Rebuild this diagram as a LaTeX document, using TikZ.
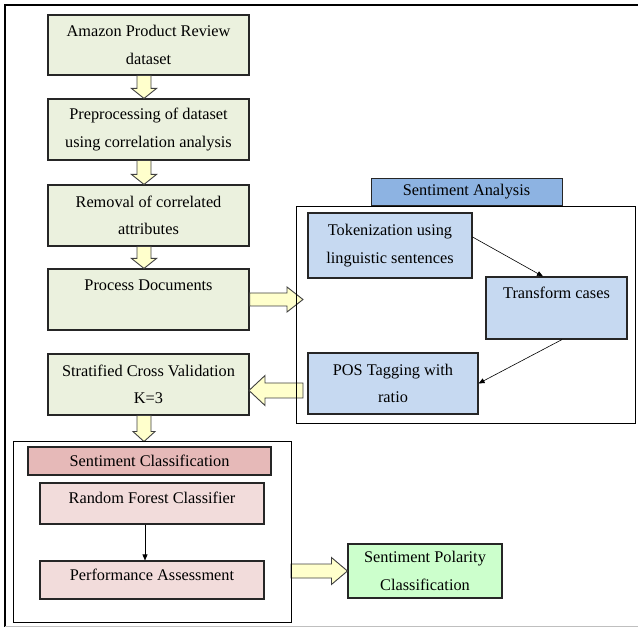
\documentclass[tikz,border=0pt]{standalone}
\usepackage{fontspec}
\setmainfont{Liberation Serif}
\usetikzlibrary{calc,arrows.meta}

\begin{document}
\begin{tikzpicture}[x=1pt,y=-1pt,
		box/.style={draw=black!85, line width=1.1pt, align=center, inner sep=0pt,
			font=\fontsize{16.3}{27.5}\selectfont},
		gruppe/.style={draw=black, line width=0.9pt},
		fat/.style n args={3}{draw=black!75, fill=gelb, line width=0.9pt,
			to path={let \p1=(\tikztostart), \p2=(\tikztotarget),
				\n1={veclen(\x2-\x1,\y2-\y1)},
				\p3=({(\x2-\x1)/\n1},{(\y2-\y1)/\n1}),
				\n2={\n1-#3} in
				({\x1-#1*\y3},{\y1+#1*\x3})
				-- ({\x1+\n2*\x3-#1*\y3},{\y1+\n2*\y3+#1*\x3})
				-- ({\x1+\n2*\x3-#2*\y3},{\y1+\n2*\y3+#2*\x3})
				-- (\x2,\y2)
				-- ({\x1+\n2*\x3+#2*\y3},{\y1+\n2*\y3-#2*\x3})
				-- ({\x1+\n2*\x3+#1*\y3},{\y1+\n2*\y3-#1*\x3})
				-- ({\x1+#1*\y3},{\y1-#1*\x3}) -- cycle}},
		duenn/.style={-{Triangle[length=6pt,width=5pt]}, line width=0.6pt}]

		\definecolor{gruen}{HTML}{EBF1DE}
		\definecolor{blau}{HTML}{C6D9F1}
		\definecolor{blaukopf}{HTML}{8DB3E2}
		\definecolor{rosa}{HTML}{F2DCDB}
		\definecolor{rosakopf}{HTML}{E6B9B8}
		\definecolor{hellgruen}{HTML}{CCFFCC}
		\definecolor{gelb}{HTML}{FFFFCC}

		\useasboundingbox (0,0) rectangle (638,628);

		% Rahmen
		\draw[black, line width=2pt] (4,5.5) -- (638,5.5);
		\draw[black, line width=1.6pt] (5,5) -- (5,627);
		\draw[black!25, line width=1pt] (5,626.5) -- (638,626.5);

		% linke Spalte
		\node[box, fill=gruen, minimum width=201pt, minimum height=60pt] (data) at (148.5,45) {Amazon Product Review\\dataset};
		\node[box, fill=gruen, minimum width=201pt, minimum height=61pt] (prep) at (148.5,129.5) {Preprocessing of dataset\\using correlation analysis};
		\node[box, fill=gruen, minimum width=201pt, minimum height=61pt] (remove) at (148.5,215.5) {Removal of correlated\\attributes};
		\node[box, fill=gruen, minimum width=201pt, text height=22pt, text depth=39pt] (procdoc) at (148.5,299.5) {Process Documents};
		\node[box, fill=gruen, minimum width=201pt, minimum height=61pt] (strat) at (148.5,384.5) {Stratified Cross Validation\\K=3};

		% Sentiment Analysis
		\node[box, fill=blau, minimum width=164pt, minimum height=65pt] (token) at (390,245.5) {Tokenization using\\linguistic sentences};
		\node[box, fill=blau, minimum width=141pt, text height=21.5pt, text depth=40.5pt] (transform) at (556.5,308) {Transform cases};
		\node[box, fill=blau, minimum width=170pt, minimum height=61pt] (pos) at (393,383.5) {POS Tagging with\\ratio};

		% Sentiment Classification
		\node[box, fill=rosa, minimum width=224pt, text height=20.5pt, text depth=20.5pt] (rf) at (152,503.5) {Random Forest Classifier};
		\node[box, fill=rosa, minimum width=224pt, text height=19.5pt, text depth=18.5pt] (perf) at (152,580) {Performance Assessment};
		\node[box, fill=hellgruen, minimum width=154pt, minimum height=54pt] (polarity) at (425,571) {Sentiment Polarity\\Classification};

		% Pfeile
		\coordinate (a1) at ($(data.south)+(-4.5,0)$);
		\coordinate (b1) at ($(prep.north)+(-4.5,0)$);
		\coordinate (a2) at ($(prep.south)+(-4.5,0)$);
		\coordinate (b2) at ($(remove.north)+(-4.5,0)$);
		\coordinate (a3) at ($(remove.south)+(-4.5,0)$);
		\coordinate (b3) at ($(procdoc.north)+(-4.5,0)$);
		\coordinate (a5) at ($(strat.south)+(-4.5,0)$);
		\coordinate (b5) at ($(strat.south)+(-4.5,26)$);
		\coordinate (sain) at (303,299.5);
		\coordinate (posout) at (303,390.5);
		\coordinate (stratin) at (249,390.5);
		\coordinate (scout) at (291,571);
		\draw[fat={7}{12.5}{10}] (a1) to (b1);
		\draw[fat={7}{12.5}{10}] (a2) to (b2);
		\draw[fat={7}{12.5}{10}] (a3) to (b3);
		\draw[fat={6.5}{12.5}{16}] (procdoc.east) to (sain);
		\draw[fat={7.5}{15}{16}] (posout) to (stratin);
		\draw[fat={7}{11}{10}] (a5) to (b5);
		\draw[fat={7}{13.5}{16}] (scout) to (polarity.west);

		% Gruppen
		\node[gruppe, minimum width=339pt, minimum height=217pt] (sa) at (465.5,314.5) {};
		\node[box, fill=blaukopf, minimum width=191pt, minimum height=27pt, line width=0.9pt] (satitle) at (466.5,191.5) {Sentiment Analysis};
		\node[gruppe, minimum width=278pt, minimum height=181pt] (sc) at (152,531.5) {};
		\node[box, fill=rosakopf, minimum width=243pt, minimum height=28pt] (sctitle) at (149.5,461) {Sentiment Classification};

		\draw[duenn] ([yshift=8.5pt]token.east) -- ([xshift=-13.5pt]transform.north);
		\draw[duenn] ([xshift=5.5pt]transform.south) -- (pos.east);
		\draw[duenn] ([xshift=-7pt]rf.south) -- ([xshift=-7pt]perf.north);

	\end{tikzpicture}
\end{document}
